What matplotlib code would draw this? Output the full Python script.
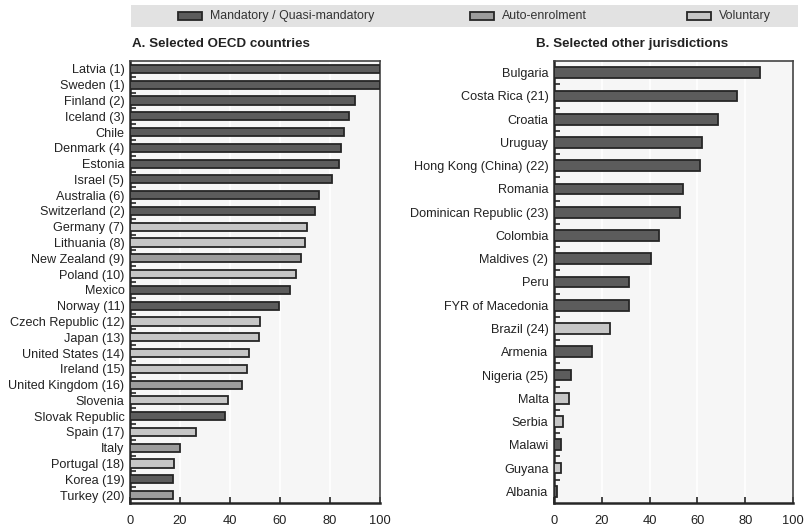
import matplotlib
matplotlib.use("Agg")
import matplotlib.pyplot as plt
from matplotlib.patches import Rectangle

plt.rcParams["font.family"] = ["Liberation Sans", "DejaVu Sans"]

# Panel A: selected OECD countries
oecd_names = [
    "Latvia (1)", "Sweden (1)", "Finland (2)", "Iceland (3)", "Chile",
    "Denmark (4)", "Estonia", "Israel (5)", "Australia (6)", "Switzerland (2)",
    "Germany (7)", "Lithuania (8)", "New Zealand (9)", "Poland (10)", "Mexico",
    "Norway (11)", "Czech Republic (12)", "Japan (13)", "United States (14)",
    "Ireland (15)", "United Kingdom (16)", "Slovenia", "Slovak Republic",
    "Spain (17)", "Italy", "Portugal (18)", "Korea (19)", "Turkey (20)",
]
oecd_values = [
    100, 100, 90.0, 87.4, 85.6, 84.5, 83.4, 80.7, 75.4, 73.8,
    70.6, 69.8, 68.2, 66.3, 63.9, 59.6, 52.1, 51.6, 47.6, 46.8,
    44.9, 39.0, 37.9, 26.2, 19.8, 17.4, 17.1, 17.1,
]
oecd_types = [
    "M", "M", "M", "M", "M", "M", "M", "M", "M", "M",
    "V", "V", "A", "V", "M", "M", "V", "V", "V", "V",
    "A", "V", "M", "V", "A", "V", "M", "A",
]

# Panel B: selected other jurisdictions
other_names = [
    "Bulgaria", "Costa Rica (21)", "Croatia", "Uruguay", "Hong Kong (China) (22)",
    "Romania", "Dominican Republic (23)", "Colombia", "Maldives (2)", "Peru",
    "FYR of Macedonia", "Brazil (24)", "Armenia", "Nigeria (25)", "Malta",
    "Serbia", "Malawi", "Guyana", "Albania",
]
other_values = [
    86.4, 76.6, 68.5, 62.1, 61.0, 54.0, 52.7, 44.0, 40.7, 31.5,
    31.5, 23.4, 15.9, 7.2, 6.4, 3.9, 3.1, 3.1, 1.1,
]
other_types = [
    "M", "M", "M", "M", "M", "M", "M", "M", "M", "M",
    "M", "V", "M", "M", "V", "V", "M", "V", "M",
]

TYPE_COLORS = {"M": "#5c5c5c", "A": "#9c9c9c", "V": "#c6c6c6"}
LEGEND_LABELS = [("M", "Mandatory / Quasi-mandatory"),
                 ("A", "Auto-enrolment"),
                 ("V", "Voluntary")]
EDGE = "#262626"


def draw_panel(ax, names, values, types, bar_h):
    n = len(names)
    ys = list(range(n))
    colors = [TYPE_COLORS[t] for t in types]
    ax.set_facecolor("#f6f6f6")
    ax.barh(ys, values, height=bar_h, color=colors, edgecolor=EDGE,
            linewidth=1.3, zorder=3)
    ax.set_xlim(0, 100)
    ax.set_ylim(n - 0.5, -0.5)
    ax.set_yticks(ys)
    ax.set_yticklabels(names, fontsize=9.1, color="#222222")
    ax.tick_params(axis="y", length=0, pad=4)
    ax.set_yticks([y + 0.5 for y in ys[:-1]], minor=True)
    ax.tick_params(axis="y", which="minor", direction="in", length=4,
                   width=1.2, color=EDGE)
    ax.set_xticks([0, 20, 40, 60, 80, 100])
    ax.tick_params(axis="x", direction="in", length=4, width=1.2,
                   color=EDGE, labelsize=9.3, labelcolor="#222222", pad=9)
    ax.grid(axis="x", color="white", linewidth=1.2, zorder=0)
    ax.set_axisbelow(True)
    for side in ("left", "bottom"):
        ax.spines[side].set_linewidth(1.8)
        ax.spines[side].set_color(EDGE)
    for side in ("top", "right"):
        ax.spines[side].set_linewidth(1.2)
        ax.spines[side].set_color("#444444")


fig = plt.figure(figsize=(8.07, 5.28), dpi=100)

ax_a = fig.add_axes([130 / 807, 25 / 528, 250 / 807, 442 / 528])
draw_panel(ax_a, oecd_names, oecd_values, oecd_types, 0.52)

ax_b = fig.add_axes([554 / 807, 25 / 528, 239 / 807, 442 / 528])
draw_panel(ax_b, other_names, other_values, other_types, 0.46)

# legend band
fig.patches.append(Rectangle((131 / 807, 1 - 27 / 528), 667 / 807, 22 / 528,
                             transform=fig.transFigure, facecolor="#e2e2e2",
                             edgecolor="none", zorder=0))
legend_x = [178, 470, 687]
for (key, label), px in zip(LEGEND_LABELS, legend_x):
    fig.patches.append(Rectangle((px / 807, 1 - 20 / 528), 24 / 807, 8 / 528,
                                 transform=fig.transFigure,
                                 facecolor=TYPE_COLORS[key], edgecolor=EDGE,
                                 linewidth=1.3, zorder=2))
    fig.text((px + 32) / 807, 1 - 16 / 528, label, fontsize=8.9, color="#333333",
             va="center", ha="left")

fig.text(132 / 807, 1 - 44 / 528, "A. Selected OECD countries",
         fontsize=9.6, fontweight="bold", color="#222222", va="center")
fig.text(536 / 807, 1 - 44 / 528, "B. Selected other jurisdictions",
         fontsize=9.6, fontweight="bold", color="#222222", va="center")

fig.savefig("out.png", dpi=100)
